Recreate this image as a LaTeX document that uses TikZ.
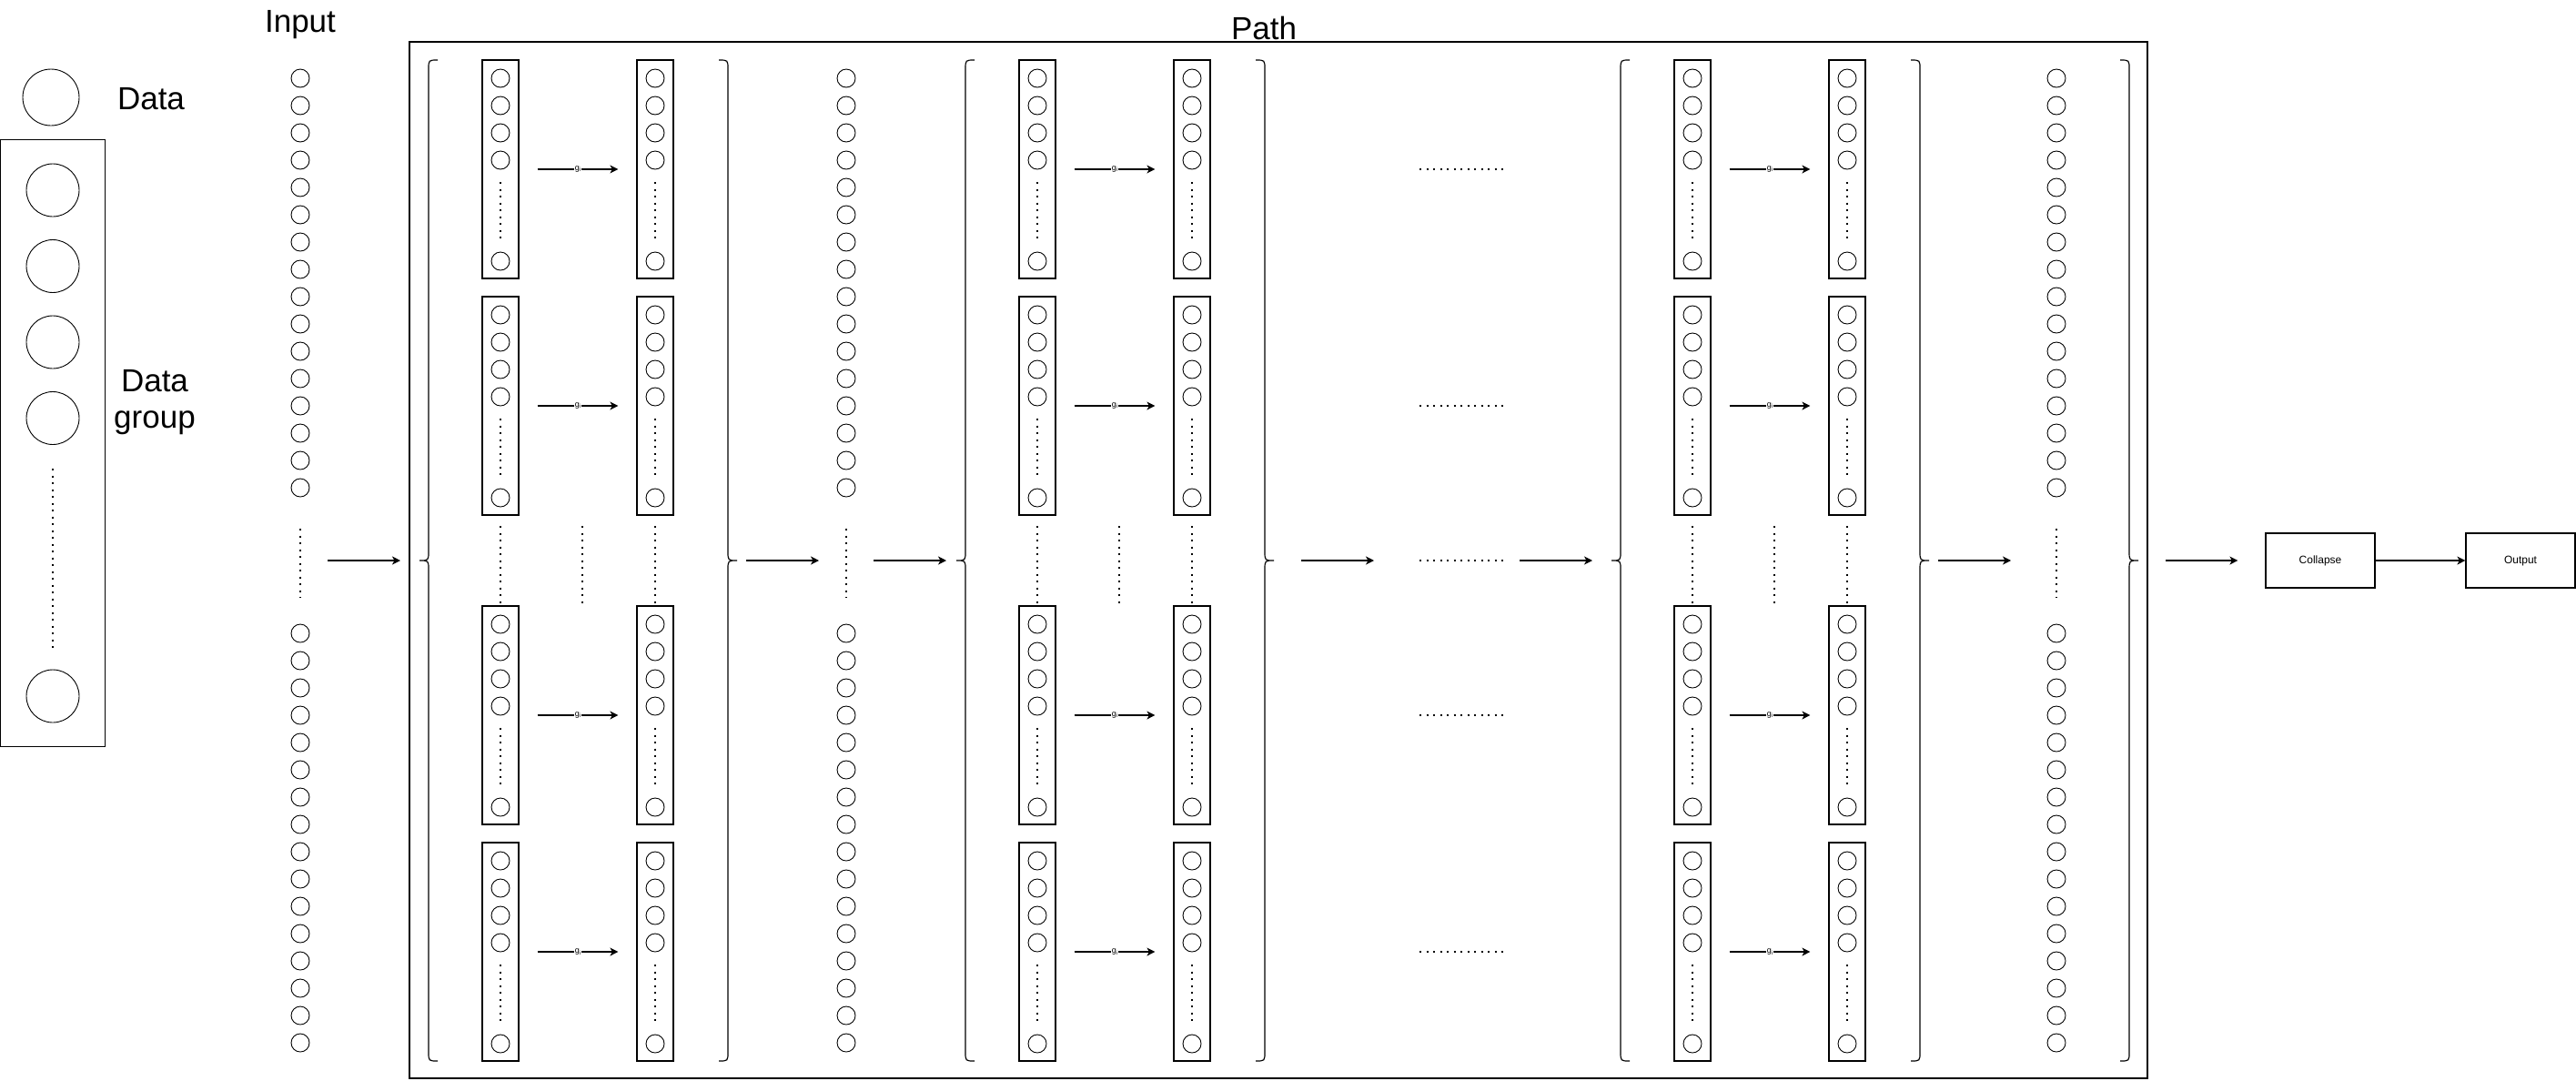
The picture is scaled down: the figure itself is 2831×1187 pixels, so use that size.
\documentclass[tikz,border=0pt]{standalone}
\usepackage{fontspec}
\setmainfont{Liberation Sans}
\usetikzlibrary{arrows.meta}
\newcommand{\drawLB}[1]{\draw[brace] ({#1+10},66) .. controls (#1,66) .. (#1,76) -- (#1,606) .. controls (#1,616) .. ({#1-10},616) .. controls (#1,616) .. (#1,626) -- (#1,1156) .. controls (#1,1166) .. ({#1+10},1166);}
\newcommand{\drawRB}[1]{\draw[brace] ({#1-10},66) .. controls (#1,66) .. (#1,76) -- (#1,606) .. controls (#1,616) .. ({#1+10},616) .. controls (#1,616) .. (#1,626) -- (#1,1156) .. controls (#1,1166) .. ({#1-10},1166);}
\begin{document}
\begin{tikzpicture}[x=1pt,y=-1pt,
  circ/.style={draw, circle, minimum size=20pt, inner sep=0pt, line width=0.9pt},
  bigcirc/.style={draw, circle, minimum size=58pt, inner sep=0pt, line width=0.9pt},
  colbox/.style={draw, rectangle, minimum width=40pt, minimum height=240pt, inner sep=0pt, line width=1.2pt},
  dotline/.style={line width=2pt, dash pattern=on 2pt off 5.5pt},
  arr/.style={-{Stealth[length=9pt,width=9pt,inset=2.5pt]}, line width=1.2pt},
  brace/.style={line width=1.2pt},
  title/.style={font=\fontsize{35}{40}\selectfont, inner sep=0pt},
  glabel/.style={font=\fontsize{9}{9}\selectfont, fill=white, inner sep=0.8pt},
  smallbox/.style={draw, minimum width=120pt, minimum height=60pt, inner sep=0pt, line width=1.2pt, font=\fontsize{12}{14}\selectfont, text height=9pt, text depth=3pt},
]
\useasboundingbox (0,0) rectangle (2831,1187);

% ---- legend ----
\node[bigcirc, minimum size=62pt] (data) at (56,107) {};
\node[title, anchor=base] (datalbl) at (166,120) {Data};
\node[draw, line width=1.2pt, minimum width=115pt, minimum height=667pt, inner sep=0pt] (grp) at (58,487) {};
\foreach \k/\yy in {1/209, 2/292.5, 3/376, 4/459.5, 5/765}
  \node[bigcirc] (grp-c\k) at (58,\yy) {};
\draw[dotline] (58,515) -- (58,712);
\node[title, align=center] (grplbl) at (170,442) {Data\\group};

% ---- titles ----
\node[title, anchor=base] (inlbl) at (330,35) {Input};
\node[title, anchor=base] (pathlbl) at (1389,43) {Path};

% ---- path box ----
\node[draw, line width=1.2pt, minimum width=1910pt, minimum height=1139pt, inner sep=0pt] (pathbox) at (1405,615.5) {};

% ---- single columns ----
\foreach \cn/\cx in {in/330, m1/930, m2/2260} {
  \foreach \k in {0,...,15} {
    \node[circ] (\cn-a\k) at (\cx,{86+30*\k}) {};
    \node[circ] (\cn-b\k) at (\cx,{696+30*\k}) {};
  }
  \draw[dotline] (\cx,581) -- (\cx,657);
}

% ---- groups ----
\foreach \gi/\gc in {1/635, 2/1225, 3/1945} {
  \foreach \ri/\rt in {1/66, 2/326, 3/666, 4/926} {
    \foreach \side/\dx in {L/-85, R/85} {
      \node[colbox] (g\gi-\ri-\side) at ({\gc+(\dx)},{\rt+120}) {};
      \foreach \k/\off in {1/20, 2/50, 3/80, 4/110, 5/221}
        \node[circ] (g\gi-\ri-\side-c\k) at ({\gc+(\dx)},{\rt+\off}) {};
      \draw[dotline] ({\gc+(\dx)},{\rt+134}) -- ({\gc+(\dx)},{\rt+201});
    }
    \draw[arr, shorten <=20pt, shorten >=20pt] (g\gi-\ri-L) -- node[glabel] {g\raisebox{-1.5pt}{\fontsize{6}{6}\selectfont i}} (g\gi-\ri-R);
  }
  \draw[dotline] ({\gc-85},578) -- ({\gc-85},663);
  \draw[dotline] ({\gc+5},578) -- ({\gc+5},663);
  \draw[dotline] ({\gc+85},578) -- ({\gc+85},663);
}

% ---- braces ----
\drawLB{471}
\drawRB{800}
\drawLB{1061}
\drawRB{1390}
\drawLB{1781}
\drawRB{2110}
\drawRB{2340}

% ---- horizontal ellipses ----
\foreach \yy in {186,446,616,786,1046}
  \draw[dotline] (1560,\yy) -- (1654,\yy);

% ---- end boxes ----
\node[smallbox] (collapse) at (2550,616) {Collapse};
\node[smallbox] (output) at (2770,616) {Output};

% ---- arrows ----
\coordinate (a1s) at (360,616);  \coordinate (a1e) at (440,616);
\coordinate (a2s) at (820,616);  \coordinate (a2e) at (900,616);
\coordinate (a3s) at (960,616);  \coordinate (a3e) at (1040,616);
\coordinate (a4s) at (1430,616); \coordinate (a4e) at (1510,616);
\coordinate (a5s) at (1670,616); \coordinate (a5e) at (1750,616);
\coordinate (a6s) at (2130,616); \coordinate (a6e) at (2210,616);
\coordinate (a7s) at (2380,616);
\draw[arr] (a1s) -- (a1e);
\draw[arr] (a2s) -- (a2e);
\draw[arr] (a3s) -- (a3e);
\draw[arr] (a4s) -- (a4e);
\draw[arr] (a5s) -- (a5e);
\draw[arr] (a6s) -- (a6e);
\draw[arr, shorten >=30pt] (a7s) -- (collapse);
\draw[arr] (collapse) -- (output);
\end{tikzpicture}
\end{document}
